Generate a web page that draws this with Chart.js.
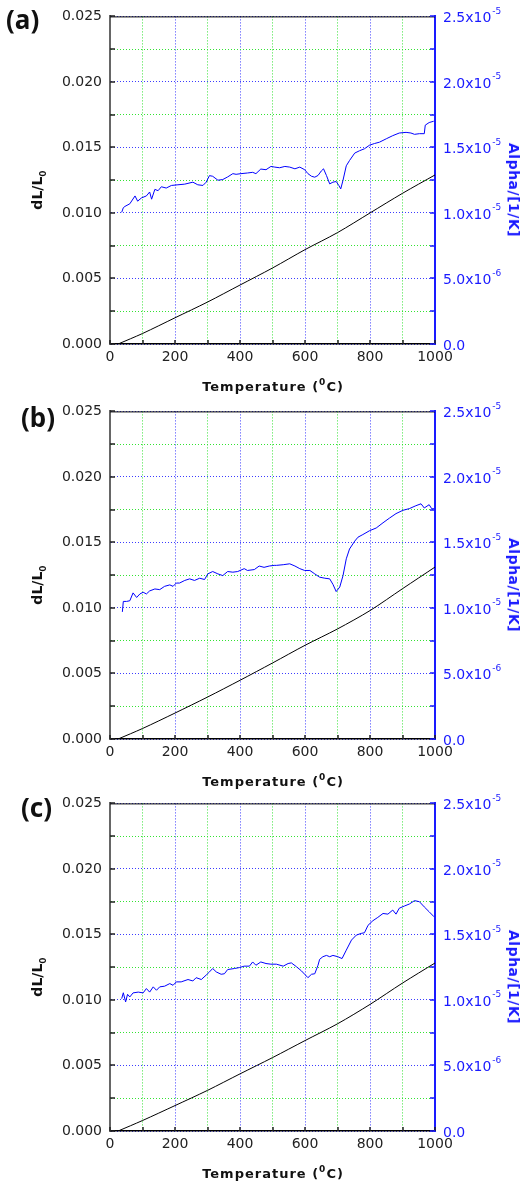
<!DOCTYPE html>
<html>
<head>
<meta charset="utf-8">
<script src="https://cdn.jsdelivr.net/npm/chart.js@4.4.1/dist/chart.umd.min.js"></script>
<style>
body { margin: 0; background: #fff; width: 523px; height: 1182px; overflow: hidden; position: relative; }
.panel { position: absolute; left: 0; width: 523px; height: 395px; }
.panel canvas { position: absolute; left: 0; top: 0; }
.tag { position: absolute; font: bold 26px "Noto Sans", sans-serif; color: #111; line-height: 1; }
.ytitle { position: absolute; white-space: nowrap; font: bold 14px "DejaVu Sans", sans-serif; transform: translate(-50%, -50%) rotate(-90deg); color: #111; }
.y2title { position: absolute; white-space: nowrap; font: bold 14px "DejaVu Sans", sans-serif; transform: translate(-50%, -50%) rotate(90deg); color: #1a1aff; letter-spacing: 0.5px; }
.xtitle { position: absolute; white-space: nowrap; font: bold 13px "DejaVu Sans", sans-serif; transform: translate(-50%, -50%); color: #111; letter-spacing: 1px; }
.sub { font-size: 9px; position: relative; top: 4px; }
.sup { font-size: 9px; position: relative; top: -6px; }
</style>
</head>
<body>
<script>
const panelNames = ['(a)', '(b)', '(c)'];

// dL/L0 curves (black)
const tempDl = [25, 100, 200, 300, 400, 500, 600, 700, 800, 900, 1000];
const dlA = [0, 0.0008, 0.0020, 0.0032, 0.0045, 0.0058, 0.0072, 0.0085, 0.0100, 0.0115, 0.0129];
const dlB = [0, 0.0008, 0.00198, 0.0032, 0.00448, 0.0058, 0.00715, 0.0084, 0.0098, 0.01147, 0.01312];
const dlC = [0, 0.0008, 0.00194, 0.0031, 0.00436, 0.0056, 0.0069, 0.00818, 0.00966, 0.01129, 0.01282];

// Alpha curves (blue), in units of 1e-5 1/K
const tempAlphaA = [36, 41, 46, 61, 77, 85, 97, 112, 122, 128, 138, 148, 158, 173, 189, 209, 230, 255, 270, 286, 296, 306, 316, 332, 347, 362, 378, 388, 403, 423, 439, 449, 464, 480, 495, 507, 522, 538, 553, 569, 584, 599, 609, 620, 630, 640, 650, 657, 666, 676, 686, 696, 704, 710, 717, 727, 737, 753, 768, 783, 799, 814, 829, 850, 870, 890, 911, 926, 937, 952, 967, 970, 982, 996];
const alphaA = [1.005, 1.04, 1.05, 1.07, 1.13, 1.09, 1.115, 1.13, 1.16, 1.105, 1.18, 1.17, 1.20, 1.19, 1.21, 1.215, 1.22, 1.235, 1.215, 1.21, 1.235, 1.285, 1.28, 1.25, 1.255, 1.275, 1.30, 1.295, 1.30, 1.305, 1.31, 1.30, 1.335, 1.33, 1.355, 1.35, 1.345, 1.355, 1.35, 1.337, 1.35, 1.33, 1.30, 1.28, 1.273, 1.286, 1.32, 1.337, 1.286, 1.222, 1.235, 1.24, 1.21, 1.184, 1.25, 1.36, 1.40, 1.457, 1.475, 1.49, 1.518, 1.53, 1.54, 1.566, 1.59, 1.61, 1.615, 1.61, 1.60, 1.605, 1.605, 1.67, 1.69, 1.70];

const tempAlphaB = [38, 41, 51, 61, 71, 82, 92, 102, 112, 122, 138, 153, 168, 184, 194, 204, 214, 230, 245, 260, 276, 291, 301, 316, 332, 347, 362, 378, 393, 413, 423, 444, 459, 474, 490, 505, 512, 533, 553, 569, 584, 599, 615, 630, 645, 661, 676, 686, 696, 707, 717, 727, 737, 753, 763, 778, 799, 819, 840, 860, 880, 901, 921, 941, 957, 967, 982, 990, 997];
const alphaB = [0.97, 1.05, 1.05, 1.055, 1.115, 1.08, 1.107, 1.12, 1.107, 1.13, 1.145, 1.14, 1.165, 1.176, 1.165, 1.19, 1.19, 1.21, 1.222, 1.21, 1.227, 1.217, 1.26, 1.278, 1.26, 1.247, 1.278, 1.273, 1.278, 1.30, 1.286, 1.293, 1.32, 1.31, 1.32, 1.325, 1.325, 1.33, 1.337, 1.32, 1.30, 1.286, 1.286, 1.26, 1.235, 1.227, 1.222, 1.18, 1.125, 1.16, 1.247, 1.375, 1.45, 1.51, 1.54, 1.56, 1.59, 1.61, 1.65, 1.686, 1.72, 1.745, 1.758, 1.78, 1.795, 1.763, 1.788, 1.757, 1.757];

const tempAlphaC = [36, 41, 48, 54, 61, 71, 87, 102, 112, 122, 133, 143, 153, 168, 184, 194, 204, 219, 240, 255, 265, 281, 296, 306, 316, 327, 342, 352, 362, 383, 398, 413, 429, 439, 449, 464, 480, 495, 512, 533, 548, 558, 574, 589, 599, 609, 620, 630, 640, 645, 655, 666, 676, 686, 701, 714, 727, 743, 758, 773, 783, 794, 809, 824, 840, 855, 870, 880, 890, 906, 921, 937, 952, 967, 982, 997];
const alphaC = [1.01, 1.055, 0.985, 1.043, 1.023, 1.054, 1.06, 1.054, 1.087, 1.06, 1.10, 1.074, 1.10, 1.105, 1.125, 1.112, 1.138, 1.138, 1.156, 1.145, 1.17, 1.156, 1.19, 1.214, 1.24, 1.214, 1.196, 1.20, 1.232, 1.24, 1.247, 1.258, 1.258, 1.29, 1.265, 1.29, 1.278, 1.273, 1.273, 1.258, 1.278, 1.283, 1.253, 1.222, 1.196, 1.17, 1.196, 1.20, 1.265, 1.31, 1.33, 1.34, 1.33, 1.34, 1.33, 1.316, 1.38, 1.457, 1.495, 1.508, 1.513, 1.57, 1.605, 1.63, 1.66, 1.655, 1.686, 1.655, 1.70, 1.717, 1.732, 1.758, 1.75, 1.71, 1.673, 1.635];

// tick labels
const xTickLabels = ['0', '', '200', '', '400', '', '600', '', '800', '', '1000'];
const leftTickLabels = ['0.000', '', '0.005', '', '0.010', '', '0.015', '', '0.020', '', '0.025'];
const rightTickMain = ['0.0', '', '5.0x10', '', '1.0x10', '', '1.5x10', '', '2.0x10', '', '2.5x10'];
const rightTickExp = ['', '', '-6', '', '-5', '', '-5', '', '-5', '', '-5'];

const panelTops = [0, 395, 787];
const tagPos = [[6, 6], [21, 9], [21, 7]];

const BLUE_GRID = 'rgba(50,50,255,0.95)';
const GREEN_GRID = 'rgba(40,225,40,0.95)';

function toPoints(xs, ys) {
    return xs.map((x, i) => ({ x: x, y: ys[i] }));
}

// frame top line, inner tick marks and the right axis labels with exponents
const frameExtras = {
    id: 'frameExtras',
    afterDraw(chart) {
        let ctx = chart.ctx;
        let a = chart.chartArea;
        let sx = chart.scales.x, sy = chart.scales.y, sy2 = chart.scales.y2;
        ctx.save();
        ctx.strokeStyle = '#000';
        ctx.lineWidth = 1;
        ctx.beginPath();
        ctx.moveTo(a.left, a.top + 0.5);
        ctx.lineTo(a.right, a.top + 0.5);
        ctx.stroke();

        ctx.strokeStyle = '#222';
        ctx.lineWidth = 1.5;
        ctx.beginPath();
        sx.ticks.forEach(t => {
            let px = Math.round(sx.getPixelForValue(t.value));
            ctx.moveTo(px, a.bottom);
            ctx.lineTo(px, a.bottom - 4);
        });
        sy.ticks.forEach(t => {
            let py = Math.round(sy.getPixelForValue(t.value));
            ctx.moveTo(a.left, py);
            ctx.lineTo(a.left + 5, py);
        });
        ctx.stroke();

        ctx.strokeStyle = '#1a1aff';
        ctx.beginPath();
        sy2.ticks.forEach(t => {
            let py = Math.round(sy2.getPixelForValue(t.value));
            ctx.moveTo(a.right, py);
            ctx.lineTo(a.right - 5, py);
        });
        ctx.stroke();

        ctx.fillStyle = '#1a1aff';
        ctx.textAlign = 'left';
        ctx.textBaseline = 'middle';
        sy2.ticks.forEach((t, i) => {
            let main = rightTickMain[i];
            if(!main) {
                return;
            }
            let py = sy2.getPixelForValue(t.value);
            let px = a.right + 8;
            ctx.font = '14px "DejaVu Sans"';
            ctx.fillText(main, px, py + 2);
            if(rightTickExp[i]) {
                let w = ctx.measureText(main).width;
                ctx.font = '9px "DejaVu Sans"';
                ctx.fillText(rightTickExp[i], px + w + 1, py - 5);
            }
        });
        ctx.restore();
    }
};

function createPanel(index, tempAlpha, alpha, dl) {
    let panel = document.createElement('div');
    panel.className = 'panel';
    panel.style.top = panelTops[index] + 'px';
    document.body.appendChild(panel);

    let canvas = document.createElement('canvas');
    canvas.width = 523;
    canvas.height = 395;
    panel.appendChild(canvas);

    let tag = document.createElement('div');
    tag.className = 'tag';
    tag.style.left = tagPos[index][0] + 'px';
    tag.style.top = tagPos[index][1] + 'px';
    tag.innerText = panelNames[index];
    panel.appendChild(tag);

    let yTitle = document.createElement('div');
    yTitle.className = 'ytitle';
    yTitle.style.left = '37px';
    yTitle.style.top = '190px';
    yTitle.innerHTML = 'dL/L<span class="sub">0</span>';
    panel.appendChild(yTitle);

    let y2Title = document.createElement('div');
    y2Title.className = 'y2title';
    y2Title.style.left = '514px';
    y2Title.style.top = '190px';
    y2Title.innerText = 'Alpha/[1/K]';
    panel.appendChild(y2Title);

    let xTitle = document.createElement('div');
    xTitle.className = 'xtitle';
    xTitle.style.left = '273px';
    xTitle.style.top = '386px';
    xTitle.innerHTML = 'Temperature (<span class="sup">0</span>C)';
    panel.appendChild(xTitle);

    let tickFont = { family: '"DejaVu Sans"', size: 14 };

    new Chart(canvas.getContext('2d'), {
        type: 'line',
        data: {
            datasets: [{
                label: 'Alpha',
                data: toPoints(tempAlpha, alpha),
                yAxisID: 'y2',
                borderColor: '#0000ff',
                borderWidth: 1,
                pointRadius: 0,
                tension: 0
            }, {
                label: 'dL/L0',
                data: toPoints(tempDl, dl),
                yAxisID: 'y',
                borderColor: '#000',
                borderWidth: 1,
                pointRadius: 0,
                tension: 0.3
            }]
        },
        options: {
            responsive: false,
            animation: false,
            devicePixelRatio: 1,
            layout: { padding: { top: 16, left: 0, right: 0, bottom: 0 } },
            plugins: { legend: { display: false }, tooltip: { enabled: false } },
            scales: {
                x: {
                    type: 'linear',
                    min: 0,
                    max: 1000,
                    afterFit: s => { s.height = 51; },
                    ticks: {
                        stepSize: 100,
                        autoSkip: false,
                        maxRotation: 0,
                        padding: 5,
                        color: '#222',
                        font: tickFont,
                        callback: (v, i) => xTickLabels[i]
                    },
                    grid: {
                        drawTicks: false,
                        lineWidth: 1,
                        color: c => c.index % 2 === 0 ? BLUE_GRID : GREEN_GRID
                    },
                    border: { display: true, color: '#000', width: 1.5, dash: [1, 2] }
                },
                y: {
                    position: 'left',
                    min: 0,
                    max: 0.025,
                    afterFit: s => { s.width = 110; },
                    ticks: {
                        stepSize: 0.0025,
                        autoSkip: false,
                        padding: 8,
                        color: '#222',
                        font: tickFont,
                        callback: (v, i) => leftTickLabels[i]
                    },
                    grid: {
                        drawTicks: false,
                        lineWidth: 1,
                        color: c => c.index % 2 === 0 ? BLUE_GRID : GREEN_GRID
                    },
                    border: { display: true, color: '#666', width: 2, dash: [1, 2] }
                },
                y2: {
                    position: 'right',
                    min: 0,
                    max: 2.5,
                    afterFit: s => { s.width = 88; },
                    ticks: { stepSize: 0.25, display: false },
                    grid: { display: false },
                    border: { display: true, color: '#1a1aff', width: 2 }
                }
            }
        },
        plugins: [frameExtras]
    });
}

createPanel(0, tempAlphaA, alphaA, dlA);
createPanel(1, tempAlphaB, alphaB, dlB);
createPanel(2, tempAlphaC, alphaC, dlC);
</script>
</body>
</html>
